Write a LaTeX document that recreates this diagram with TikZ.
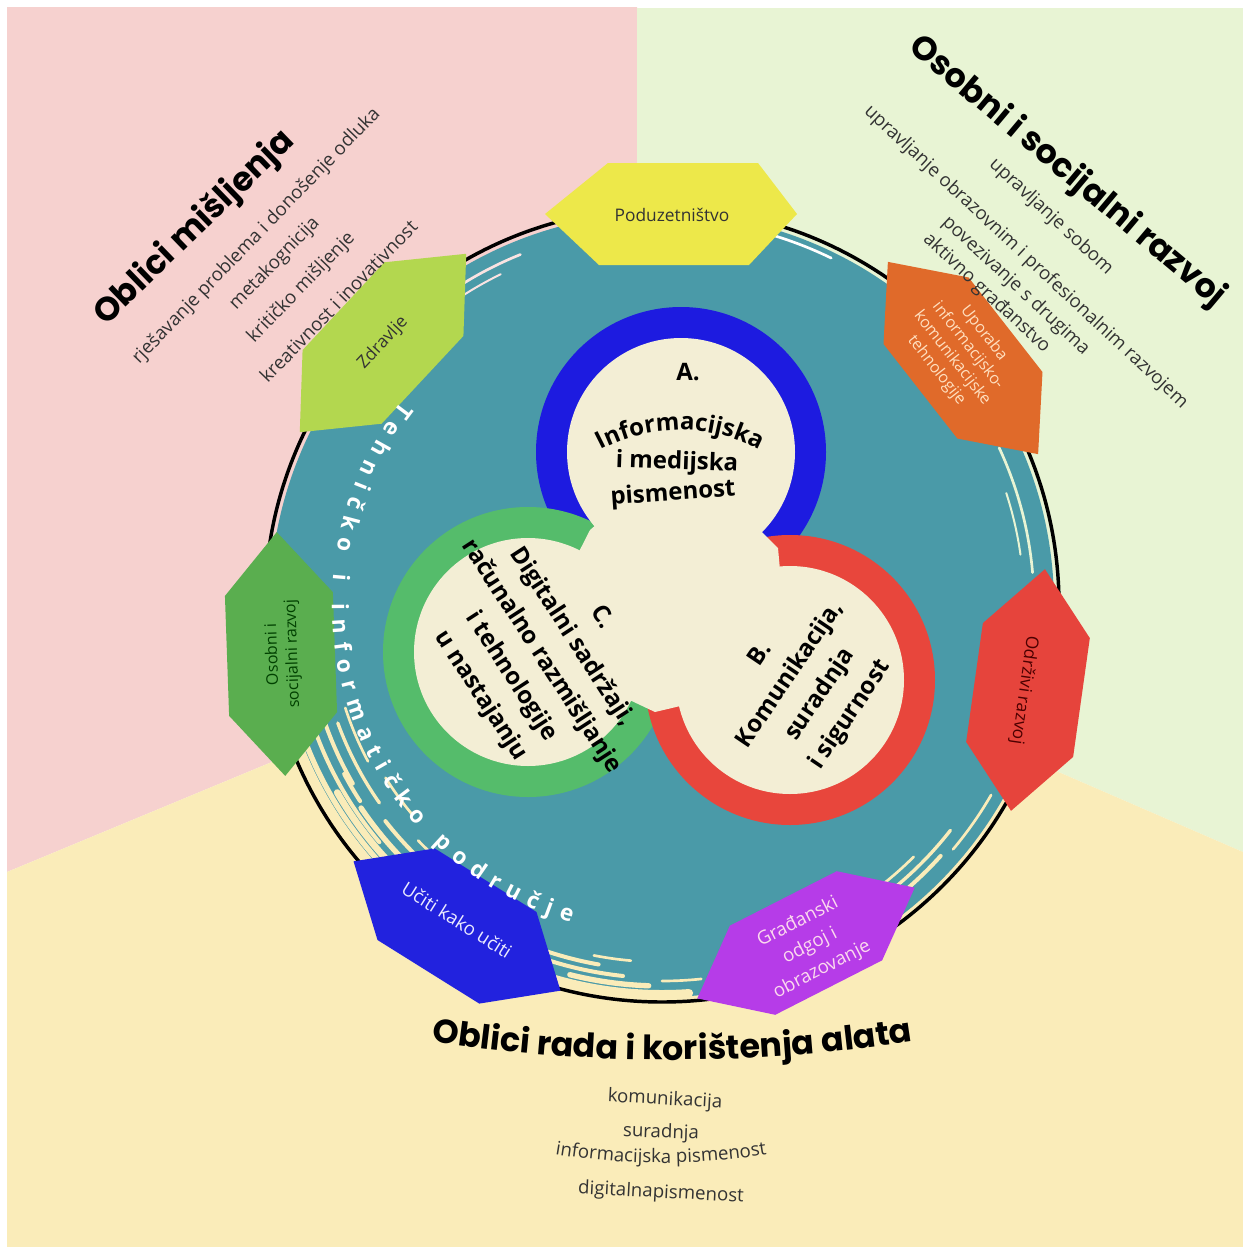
\documentclass[tikz,border=0pt]{standalone}
\usepackage{fontspec}
\setmainfont{Open Sans}
\newfontfamily\titlefont{Poppins}
\usetikzlibrary{decorations.text}

\definecolor{bgpink}{HTML}{F6D1CF}
\definecolor{bggreen}{HTML}{E8F4D4}
\definecolor{bgyellow}{HTML}{FAECB9}
\definecolor{discteal}{HTML}{4A9AA8}
\definecolor{innercream}{HTML}{F3EED5}
\definecolor{ringblue}{HTML}{1D1BE0}
\definecolor{ringred}{HTML}{E8463C}
\definecolor{ringgreen}{HTML}{55BC6B}
\definecolor{hexyellow}{HTML}{EDE84A}
\definecolor{hexlime}{HTML}{B3D74F}
\definecolor{hexorange}{HTML}{E06A2A}
\definecolor{hexgreen}{HTML}{5AAE4F}
\definecolor{hexred}{HTML}{E6443C}
\definecolor{hexblue}{HTML}{2222DE}
\definecolor{hexpurple}{HTML}{B63CE8}

\tikzset{
  sidetitle/.style={font=\titlefont\bfseries\fontsize{25}{28}\selectfont, inner sep=0.75pt},
  listtext/.style={font=\fontsize{14}{16}\selectfont, text=black!80, inner sep=0.75pt},
  ringtext/.style={font=\bfseries\fontsize{18}{27}\selectfont, align=center, inner sep=0.75pt},
  hextext/.style={font=\fontsize{12}{15}\selectfont, align=center, inner sep=0.75pt},
  streak/.style={draw=bgyellow, line cap=round}
}

\begin{document}
\begin{tikzpicture}[x=0.75pt,y=0.75pt,yscale=-1]
\useasboundingbox (0,0) rectangle (1243,1247);

%Shape: Polygon [background pink]
\fill[bgpink] (7,7) -- (637,7) -- (637,600) -- (662,600) -- (7,872) -- cycle;
%Shape: Polygon [background green]
\fill[bggreen] (637,8) -- (1243,8) -- (1243,852) -- (662,600) -- (637,600) -- cycle;
%Shape: Polygon [background yellow]
\fill[bgyellow] (7,872) -- (662,600) -- (1243,852) -- (1243,1247) -- (7,1247) -- cycle;

%Shape: Circle [teal disc]
\fill[discteal] (662,605) circle (392);
%Shape: Circle [outline]
\draw[line width=2.6] (662,605) circle (397);

%Curve Lines [streaks lower left]
\draw[streak, line width=7, shift={(662,605)}] (128:390) arc[start angle=128, end angle=168, radius=390];
\draw[streak, line width=4, shift={(662,605)}] (132:382) arc[start angle=132, end angle=165, radius=382];
\draw[streak, line width=5, shift={(662,605)}] (126:375) arc[start angle=126, end angle=150, radius=375];
\draw[streak, line width=3, shift={(662,605)}] (140:369) arc[start angle=140, end angle=170, radius=369];
\draw[streak, line width=4, shift={(662,605)}] (128:363) arc[start angle=128, end angle=146, radius=363];
\draw[streak, line width=3, shift={(662,605)}] (150:357) arc[start angle=150, end angle=166, radius=357];
\draw[streak, line width=3, shift={(662,605)}] (132:351) arc[start angle=132, end angle=142, radius=351];
\draw[streak, line width=2.5, shift={(662,605)}] (145:345) arc[start angle=145, end angle=160, radius=345];
\draw[streak, line width=2, shift={(662,605)}] (128:339) arc[start angle=128, end angle=136, radius=339];
\draw[streak, line width=2, shift={(662,605)}] (152:333) arc[start angle=152, end angle=162, radius=333];
\draw[streak, line width=2, shift={(662,605)}] (140:326) arc[start angle=140, end angle=148, radius=326];
\draw[streak, line width=3, shift={(662,605)}] (147:360) arc[start angle=147, end angle=152, radius=360];
\draw[streak, line width=2, shift={(662,605)}] (168:360) arc[start angle=168, end angle=176, radius=360];
\draw[streak, line width=1.5, shift={(662,605)}] (170:350) arc[start angle=170, end angle=178, radius=350];
\draw[streak, line width=2, shift={(662,605)}] (120:372) arc[start angle=120, end angle=127, radius=372];
%Curve Lines [streaks bottom]
\draw[streak, line width=6, shift={(662,605)}] (86:389) arc[start angle=86, end angle=106, radius=389];
\draw[streak, line width=4, shift={(662,605)}] (92:381) arc[start angle=92, end angle=104, radius=381];
\draw[streak, line width=3, shift={(662,605)}] (96:373) arc[start angle=96, end angle=108, radius=373];
\draw[streak, line width=3, shift={(662,605)}] (100:365) arc[start angle=100, end angle=110, radius=365];
\draw[streak, line width=2, shift={(662,605)}] (95:357) arc[start angle=95, end angle=101, radius=357];
\draw[streak, line width=2, shift={(662,605)}] (84:376) arc[start angle=84, end angle=90, radius=376];
%Curve Lines [streaks lower right]
\draw[streak, line width=3, shift={(662,605)}] (42:375) arc[start angle=42, end angle=62, radius=375];
\draw[streak, line width=2.5, shift={(662,605)}] (38:366) arc[start angle=38, end angle=55, radius=366];
\draw[streak, line width=2, shift={(662,605)}] (45:356) arc[start angle=45, end angle=58, radius=356];
\draw[streak, line width=3, shift={(662,605)}] (62:386) arc[start angle=62, end angle=75, radius=386];
\draw[streak, line width=2, shift={(662,605)}] (30:380) arc[start angle=30, end angle=40, radius=380];
%Curve Lines [streaks right and top]
\draw[streak, draw=bggreen, line width=2, shift={(662,605)}] (-25:372) arc[start angle=-25, end angle=-5, radius=372];
\draw[streak, draw=bggreen, line width=2, shift={(662,605)}] (0:380) arc[start angle=0, end angle=12, radius=380];
\draw[streak, draw=bggreen, line width=1.5, shift={(662,605)}] (-18:362) arc[start angle=-18, end angle=-8, radius=362];
\draw[streak, draw=bgpink!60!white, line width=2, shift={(662,605)}] (232:378) arc[start angle=232, end angle=248, radius=378];
\draw[streak, draw=bgpink!60!white, line width=1.5, shift={(662,605)}] (236:368) arc[start angle=236, end angle=244, radius=368];
\draw[streak, draw=white, line width=2, shift={(662,605)}] (282:386) arc[start angle=282, end angle=296, radius=386];

%Shape: Hexagon [Poduzetnistvo]
\fill[hexyellow, shift={(671,214)}] (-126,0) -- (-63,-51) -- (87,-51) -- (126,0) -- (78,51) -- (-72,51) -- cycle;
%Shape: Hexagon [Zdravlje]
\fill[hexlime, shift={(383,343)}, rotate=-47] (-122,0) -- (-60,-54) -- (60,-54) -- (122,0) -- (60,54) -- (-60,54) -- cycle;
%Shape: Hexagon [Uporaba IKT]
\fill[hexorange, shift={(963,358)}, rotate=52] (-122,0) -- (-60,-54) -- (60,-54) -- (122,0) -- (60,54) -- (-60,54) -- cycle;
%Shape: Hexagon [Osobni i socijalni razvoj]
\fill[hexgreen, shift={(281,654)}, rotate=-92] (-122,0) -- (-60,-54) -- (60,-54) -- (122,0) -- (60,54) -- (-60,54) -- cycle;
%Shape: Hexagon [Odrzivi razvoj]
\fill[hexred, shift={(1028,690)}, rotate=98] (-122,0) -- (-60,-54) -- (60,-54) -- (122,0) -- (60,54) -- (-60,54) -- cycle;
%Shape: Hexagon [Uciti kako uciti]
\fill[hexblue, shift={(457,926)}, rotate=32] (-122,0) -- (-60,-54) -- (60,-54) -- (122,0) -- (60,54) -- (-60,54) -- cycle;
%Shape: Hexagon [Gradjanski odgoj]
\fill[hexpurple, shift={(806,943)}, rotate=-27] (-122,0) -- (-60,-50) -- (60,-50) -- (122,0) -- (60,50) -- (-60,50) -- cycle;

%Shape: Circle [ring A]
\fill[ringblue] (681,452) circle (145);
%Shape: Circle [ring C]
\fill[ringgreen] (528,652) circle (145);
%Shape: Circle [ring B]
\fill[ringred] (790,680) circle (145);
%Shape: Circle [inner discs]
\fill[innercream] (528,652) circle (114) (790,680) circle (114) (681,452) circle (114);
%Shape: Polygon [inner join]
\fill[innercream] (528,652) -- (590,530) -- (681,452) -- (778,548) -- (790,680) -- (655,712) -- cycle;

% Text Node
\draw (688,372) node (ringAhead) [ringtext] {A.};
\draw (677,463) node (ringAmid) [ringtext, rotate=-2] {i medijska};
\draw (673,494) node (ringAlow) [ringtext, rotate=4] {pismenost};
% Text Node
\draw (806,685) node (ringBtext) [ringtext, rotate=56] {B.\\Komunikacija,\\suradnja\\i sigurnost};
% Text Node
\draw (541,657) node (ringCtext) [ringtext, rotate=-57] {C.\\Digitalni sadržaji,\\računalno razmišljanje\\i tehnologije\\u nastajanju};

\begin{scope}[yscale=-1]
%Curve text [Informacijska]
\path[decorate, decoration={text along path, text align=center,
  text={|\bfseries\fontsize{18}{18}\selectfont|Informacijska}}, shift={(680,-599)}]
  (125:169) arc[start angle=125, end angle=55, radius=169];
%Curve text [Tehnicko i informaticko podrucje]
\path[decorate, decoration={text along path, text align=fit to path, text color=white,
  text={|\bfseries\fontsize{17}{17}\selectfont|Tehničko i informatičko područje}}, shift={(662,-605)}]
  (142:330) arc[start angle=142, end angle=254, radius=330];
%Curve text [bottom title]
\path[decorate, decoration={text along path, text align=center,
  text={|\titlefont\bfseries\fontsize{25}{25}\selectfont|Oblici rada i korištenja alata}}, shift={(672,509)}]
  (258:1569) arc[start angle=258, end angle=282, radius=1569];
%Curve text [informacijska pismenost]
\path[decorate, decoration={text along path, text align=center, text color=black!80,
  text={|\fontsize{14}{14}\selectfont|informacijska pismenost}}, shift={(661,-513)}]
  (255:650) arc[start angle=255, end angle=285, radius=650];
\end{scope}

% Text Node
\draw (672,215) node (hexPod) [hextext, font=\fontsize{13}{15}\selectfont, text=black!80] {Poduzetništvo};
\draw (383,343) node (hexZdr) [hextext, font=\fontsize{13}{15}\selectfont, text=black!80, rotate=47] {Zdravlje};
\draw (960,352) node (hexIkt) [hextext, text=orange!25!white, rotate=-52] {Uporaba\\informacijsko-\\komunikacijske\\tehnologije};
\draw (283,654) node (hexOsr) [hextext, text=green!25!black, rotate=92] {Osobni i\\socijalni razvoj};
\draw (1024,690) node (hexOdr) [hextext, font=\fontsize{13}{15}\selectfont, text=red!30!black, rotate=-98] {Održivi razvoj};
\draw (457,920) node (hexUku) [hextext, font=\fontsize{14}{16}\selectfont, text=blue!8!white, rotate=-32] {Učiti kako učiti};
\draw (810,946) node (hexGoo) [hextext, font=\fontsize{14}{20}\selectfont, text=magenta!15!white, rotate=27] {Građanski\\odgoj i\\obrazovanje};

% Text Node
\draw (195,228) node (thinkTitle) [sidetitle, rotate=44] {Oblici mišljenja};
\draw (135,362) node (thinkA) [listtext, anchor=west, rotate=46] {rješavanje problema i donošenje odluka};
\draw (232,308) node (thinkB) [listtext, anchor=west, rotate=46] {metakognicija};
\draw (250,341) node (thinkC) [listtext, anchor=west, rotate=46] {kritičko mišljenje};
\draw (262,380) node (thinkD) [listtext, anchor=west, rotate=46] {kreativnost i inovativnost};

% Text Node
\draw (1067,172) node (selfTitle) [sidetitle, rotate=-40] {Osobni i socijalni razvoj};
\draw (991,161) node (selfA) [listtext, anchor=west, rotate=-43] {upravljanje sobom};
\draw (866,108) node (selfB) [listtext, anchor=west, rotate=-43] {upravljanje obrazovnim i profesionalnim razvojem};
\draw (944,219) node (selfC) [listtext, anchor=west, rotate=-43] {povezivanje s drugima};
\draw (925,236) node (selfD) [listtext, anchor=west, rotate=-43] {aktivno građanstvo};

% Text Node
\draw (665,1100) node (toolA) [listtext, rotate=-3] {komunikacija};
\draw (661,1133) node (toolB) [listtext, rotate=-2] {suradnja};
\draw (661,1193) node (toolD) [listtext, rotate=-3] {digitalnapismenost};

\end{tikzpicture}
\end{document}
